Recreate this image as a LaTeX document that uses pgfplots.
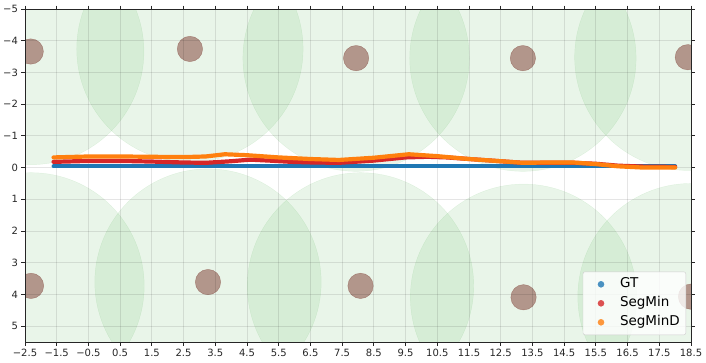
\documentclass[border=0pt]{standalone}
\usepackage{fontspec}
\setmainfont{DejaVu Sans}
\usepackage{pgfplots}
\pgfplotsset{compat=1.18}
\definecolor{tBlue}{HTML}{1F77B4}
\definecolor{tRed}{HTML}{D62728}
\definecolor{tOrange}{HTML}{FF7F0E}
\definecolor{tGreen}{HTML}{2CA02C}
\definecolor{tBrown}{HTML}{8C564B}
\definecolor{cInk}{HTML}{262626}

\begin{document}
\begin{tikzpicture}
\begin{axis}[
  at={(0pt,0pt)}, anchor=south west,
  width=666pt, height=333pt, scale only axis,
  set layers, clip mode=individual, clip marker paths=true,
  xmin=-2.5, xmax=18.5, ymin=-5, ymax=5.5, y dir=reverse,
  xtick={-2.5,-1.5,-0.5,0.5,1.5,2.5,3.5,4.5,5.5,6.5,7.5,8.5,9.5,10.5,11.5,12.5,13.5,14.5,15.5,16.5,17.5,18.5},
  xticklabels={−2.5,−1.5,−0.5,0.5,1.5,2.5,3.5,4.5,5.5,6.5,7.5,8.5,9.5,10.5,11.5,12.5,13.5,14.5,15.5,16.5,17.5,18.5},
  ytick={-5,-4,...,5},
  yticklabels={−5,−4,−3,−2,−1,0,1,2,3,4,5},
  tick align=outside, major tick length=3.5pt,
  tick style={draw=cInk, line width=0.8pt},
  axis line style={draw=cInk, line width=0.8pt},
  tick label style={font=\fontsize{10}{12}\selectfont, text=cInk},
  grid=major, major grid style={draw=black, draw opacity=0.1, line width=0.8pt},
  legend cell align=left,
  legend style={at={(axis description cs:0.9925,0.021)}, anchor=south east,
    draw=black!20, fill=white, fill opacity=0.8, text opacity=1, rounded corners=2pt,
    font=\fontsize{13.5}{16}\selectfont, inner xsep=4pt, inner ysep=4pt, row sep=2pt,
    nodes={inner sep=2pt, text height=10pt, text depth=3pt}},
  legend image code/.code={\path[draw=none] (0pt,0pt) rectangle (31pt,0pt);
    \fill[#1, draw=none] (14pt,0pt) circle (3.3pt);},
]
% safety regions (r = 3.57)
\addplot[forget plot, on layer=axis background, only marks, mark=*, mark size=113.2pt,
  mark options={fill=tGreen, draw=tGreen, opacity=0.1}] coordinates {
  (-2.32,-3.66) (2.70,-3.74) (7.94,-3.45) (13.2,-3.45) (18.4,-3.48)
  (-2.31,3.73) (3.27,3.61) (8.08,3.73) (13.22,4.09) (18.5,4.07)};
% obstacles (r = 0.4)
\addplot[forget plot, on layer=axis background, only marks, mark=*, mark size=12.7pt,
  mark options={fill=tBrown, draw=tBrown, opacity=0.6}] coordinates {
  (-2.32,-3.66) (2.70,-3.74) (7.94,-3.45) (13.2,-3.45) (18.4,-3.48)
  (-2.31,3.73) (3.27,3.61) (8.08,3.73) (13.22,4.09) (18.5,4.07)};

\addplot[tBlue, line width=4pt, line cap=round, line join=round] coordinates {
  (-1.6,-0.04) (4.0,-0.04) (9.0,-0.04) (14.0,-0.04) (18.0,-0.04)};
\addlegendentry{GT}
\addplot[tRed, line width=4.2pt, line cap=round, line join=round] coordinates {
  (-1.6,-0.18) (-0.5,-0.21) (0.5,-0.21) (1.5,-0.19) (2.5,-0.16) (3.2,-0.15)
  (4.0,-0.20) (4.6,-0.25) (5.2,-0.22) (5.9,-0.18) (6.6,-0.16) (7.4,-0.15)
  (8.5,-0.22) (9.5,-0.32) (10.2,-0.34) (10.8,-0.32) (11.5,-0.27) (12.5,-0.20)
  (13.2,-0.15) (14.0,-0.15) (14.8,-0.15) (15.5,-0.12) (16.2,-0.06) (17.0,-0.03) (18.0,-0.02)};
\addlegendentry{SegMin}
\addplot[tOrange, line width=4.2pt, line cap=round, line join=round] coordinates {
  (-1.6,-0.32) (-0.5,-0.35) (0.5,-0.35) (1.5,-0.34) (2.5,-0.33) (3.2,-0.35)
  (3.8,-0.42) (4.5,-0.39) (5.5,-0.32) (6.5,-0.27) (7.4,-0.24) (8.5,-0.31)
  (9.6,-0.42) (10.5,-0.36) (11.5,-0.27) (12.5,-0.20) (13.2,-0.15) (14.0,-0.16)
  (14.8,-0.16) (15.5,-0.11) (16.2,-0.04) (17.0,0.00) (18.0,0.00)};
\addlegendentry{SegMinD}
\end{axis}
\pgfresetboundingbox
\path[use as bounding box] (-25pt,-20pt) rectangle (681pt,342pt);
\end{tikzpicture}
\end{document}
